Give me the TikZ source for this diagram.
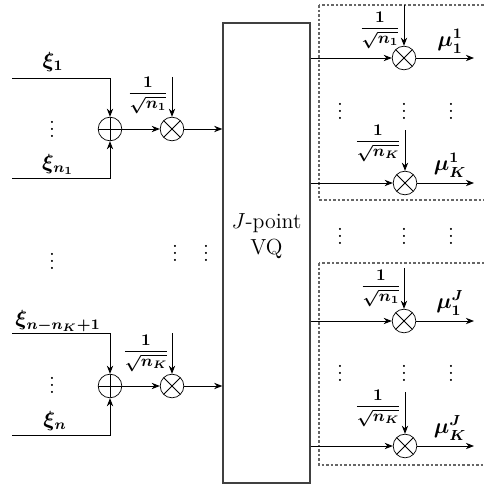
\documentclass[tikz,border=0pt]{standalone}
\usepackage{amsmath}
\usepackage{amssymb}
\usetikzlibrary{arrows.meta,positioning,calc}

\begin{document}
\begin{tikzpicture}[
    x=0.55pt, y=-0.55pt,
    sumnode/.style={
      circle, draw, minimum size=13pt, inner sep=0pt,
      path picture={\draw (path picture bounding box.north) -- (path picture bounding box.south)
        (path picture bounding box.west) -- (path picture bounding box.east);}
    },
    prodnode/.style={
      circle, draw, minimum size=13pt, inner sep=0pt,
      path picture={\draw (path picture bounding box.north west) -- (path picture bounding box.south east)
        (path picture bounding box.south west) -- (path picture bounding box.north east);}
    },
    vqbox/.style={
      rectangle, draw=black!75, line width=0.8pt,
      minimum width=47.8pt, minimum height=253pt
    },
    groupbox/.style={draw=black!60, line width=0.6pt, dash pattern=on 1.4pt off 1.1pt},
    lbl/.style={font=\large\boldmath, inner sep=0pt},
    wlbl/.style={font=\small\boldmath, inner sep=0pt},
    sig/.style={-{Stealth[length=4.5pt,width=3.5pt]}, line width=0.5pt}
  ]
    \useasboundingbox (0,0) rectangle (483,487);

    % Quantizer
    \node[vqbox] (vq) at (266.5,253) {};
    \node[align=center, font=\large] (vqtext) at (266.5,236) {$J$-point\\VQ};

    % First input group
    \coordinate (x1) at (12,78);
    \coordinate (xn1) at (12,178);
    \node[sumnode] (add1) at (110,129) {};
    \node[prodnode] (mul1) at (172,129) {};
    \coordinate (w1) at (172,77);
    \node[lbl] (lx1) at (53,62) {$\xi_1$};
    \node[lbl] (lxn1) at (58,164) {$\xi_{n_1}$};
    \node[lbl] (dx1) at (52,124) {$\vdots$};
    \node[wlbl] (lw1) at (148,95) {$\dfrac{1}{\sqrt{n_1}}$};
    \draw[sig] (x1) -| (add1);
    \draw[sig] (xn1) -| (add1);
    \draw[sig] (add1) -- (mul1);
    \draw[sig] (w1) -- (mul1);
    \draw[sig] (mul1) -- (mul1 -| vq.west);

    % Last input group
    \coordinate (xk1) at (12,333);
    \coordinate (xn) at (12,435);
    \node[sumnode] (add2) at (110,386) {};
    \node[prodnode] (mul2) at (172,386) {};
    \coordinate (w2) at (172,333);
    \node[lbl] (lxk1) at (58,321) {$\xi_{n-n_K+1}$};
    \node[lbl] (lxn) at (55,421) {$\xi_n$};
    \node[lbl] (dx2) at (52,380) {$\vdots$};
    \node[wlbl] (lw2) at (146,353) {$\dfrac{1}{\sqrt{n_K}}$};
    \draw[sig] (xk1) -| (add2);
    \draw[sig] (xn) -| (add2);
    \draw[sig] (add2) -- (mul2);
    \draw[sig] (w2) -- (mul2);
    \draw[sig] (mul2) -- (mul2 -| vq.west);

    % Dots between input groups
    \node[lbl] (dm1) at (52,256) {$\vdots$};
    \node[lbl] (dm2) at (175,248) {$\vdots$};
    \node[lbl] (dm3) at (206,248) {$\vdots$};

    % Output groups
    \draw[groupbox] (319,5) rectangle (495,200);
    \draw[groupbox] (319,263) rectangle (495,465);

    \node[prodnode] (o11) at (404,58) {};
    \node[prodnode] (o1k) at (405,183) {};
    \node[prodnode] (oj1) at (404,321) {};
    \node[prodnode] (ojk) at (405,446) {};
    \coordinate (v11) at (404,5);
    \coordinate (v1k) at (405,130);
    \coordinate (vj1) at (404,268);
    \coordinate (vjk) at (405,392);
    \coordinate (e11) at (474,58);
    \coordinate (e1k) at (474,183);
    \coordinate (ej1) at (474,321);
    \coordinate (ejk) at (474,446);

    \node[wlbl] (lv11) at (380,30) {$\dfrac{1}{\sqrt{n_1}}$};
    \node[wlbl] (lv1k) at (378,143) {$\dfrac{1}{\sqrt{n_K}}$};
    \node[wlbl] (lvj1) at (381,288) {$\dfrac{1}{\sqrt{n_1}}$};
    \node[wlbl] (lvjk) at (378,408) {$\dfrac{1}{\sqrt{n_K}}$};
    \node[lbl] (lm11) at (450,41) {$\mu_1^1$};
    \node[lbl] (lm1k) at (450,165) {$\mu_K^1$};
    \node[lbl] (lmj1) at (450,303) {$\mu_1^J$};
    \node[lbl] (lmjk) at (450,428) {$\mu_K^J$};

    \foreach \o/\v/\e in {o11/v11/e11, o1k/v1k/e1k, oj1/vj1/ej1, ojk/vjk/ejk} {
      \draw[sig] (\o -| vq.east) -- (\o);
      \draw[sig] (\v) -- (\o);
      \draw[sig] (\o) -- (\e);
    }

    % Dots on the output side
    \foreach \y in {106,231,368} {
      \node[lbl] at (340,\y) {$\vdots$};
      \node[lbl] at (404,\y) {$\vdots$};
      \node[lbl] at (451,\y) {$\vdots$};
    }
  \end{tikzpicture}
\end{document}
